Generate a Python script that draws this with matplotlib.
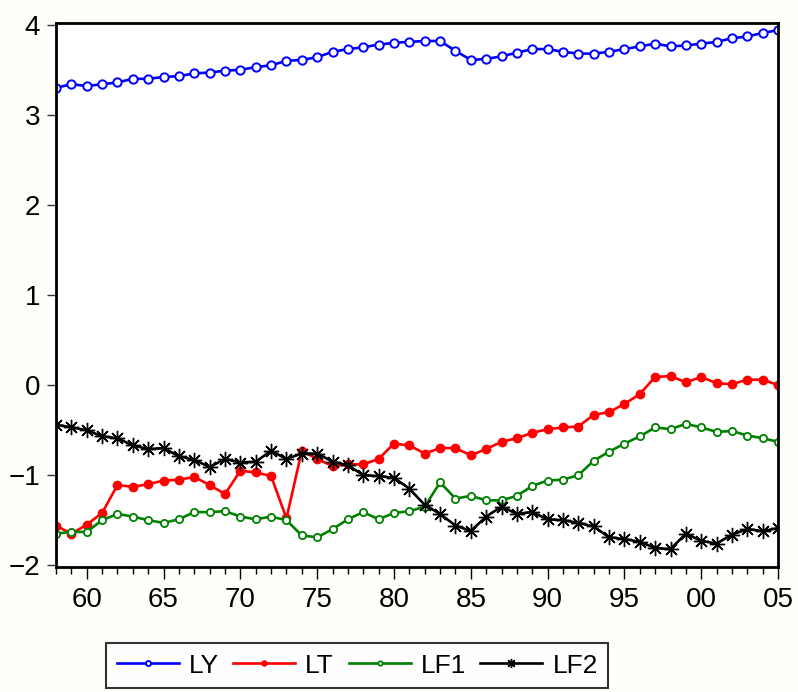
import matplotlib
matplotlib.use("Agg")
import matplotlib.pyplot as plt
from matplotlib.ticker import FixedLocator, MultipleLocator

plt.rcParams['font.family'] = ['Liberation Sans', 'DejaVu Sans']

# годы 1958-2005
years = list(range(1958, 2006))

ly = [3.30, 3.34, 3.32, 3.34, 3.36, 3.40, 3.40, 3.42, 3.43, 3.46,
      3.47, 3.49, 3.50, 3.53, 3.55, 3.60, 3.61, 3.64, 3.70, 3.73,
      3.75, 3.78, 3.80, 3.81, 3.82, 3.82, 3.71, 3.61, 3.62, 3.65,
      3.69, 3.73, 3.73, 3.70, 3.68, 3.68, 3.70, 3.73, 3.76, 3.79,
      3.76, 3.77, 3.79, 3.81, 3.85, 3.87, 3.91, 3.94]

lt = [-1.56, -1.65, -1.55, -1.42, -1.11, -1.13, -1.10, -1.06, -1.05, -1.02,
      -1.11, -1.21, -0.95, -0.97, -1.01, -1.48, -0.73, -0.82, -0.90, -0.88,
      -0.88, -0.82, -0.65, -0.67, -0.76, -0.70, -0.70, -0.78, -0.71, -0.63,
      -0.59, -0.53, -0.49, -0.47, -0.46, -0.33, -0.30, -0.21, -0.10, 0.09,
      0.10, 0.03, 0.09, 0.02, 0.01, 0.06, 0.06, 0.00]

lf1 = [-1.65, -1.63, -1.63, -1.50, -1.43, -1.46, -1.50, -1.53, -1.49, -1.41,
       -1.41, -1.40, -1.46, -1.49, -1.46, -1.50, -1.67, -1.69, -1.60, -1.49,
       -1.41, -1.49, -1.42, -1.40, -1.35, -1.08, -1.26, -1.23, -1.28, -1.28,
       -1.23, -1.12, -1.06, -1.05, -1.00, -0.84, -0.74, -0.65, -0.57, -0.47,
       -0.49, -0.43, -0.47, -0.52, -0.51, -0.56, -0.59, -0.63]

lf2 = [-0.44, -0.47, -0.50, -0.57, -0.59, -0.67, -0.71, -0.70, -0.79, -0.83,
       -0.91, -0.82, -0.86, -0.85, -0.73, -0.82, -0.76, -0.76, -0.85, -0.89,
       -1.00, -1.01, -1.03, -1.15, -1.33, -1.43, -1.56, -1.62, -1.46, -1.35,
       -1.43, -1.41, -1.49, -1.50, -1.53, -1.57, -1.69, -1.71, -1.74, -1.81,
       -1.82, -1.65, -1.73, -1.76, -1.66, -1.60, -1.62, -1.59]

fig = plt.figure(figsize=(7.98, 6.92), dpi=100, facecolor='#fefefb')
ax = fig.add_axes([0.0702, 0.1806, 0.9048, 0.7862])

ax.plot(years, ly, color='#0000ff', lw=1.9, marker='o', ms=6,
        mfc='white', mec='#0000ff', mew=1.4, label='LY')
ax.plot(years, lt, color='#ff0000', lw=1.9, marker='o', ms=6,
        mfc='#ff0000', mec='#ff0000', label='LT')
ax.plot(years, lf1, color='#008000', lw=1.9, marker='o', ms=5.2,
        mfc='white', mec='#008000', mew=1.3, label='LF1')
ax.plot(years, lf2, color='black', lw=1.9, marker=(8, 2, 0), ms=11,
        mew=1.0, label='LF2')

ax.set_xlim(1958, 2005)
ax.set_ylim(-2.02, 4.02)

ax.xaxis.set_major_locator(FixedLocator(range(1960, 2006, 5)))
ax.set_xticklabels(['%02d' % (y % 100) for y in range(1960, 2006, 5)])
ax.xaxis.set_minor_locator(MultipleLocator(1))
ax.yaxis.set_major_locator(MultipleLocator(1))

ax.tick_params(axis='x', which='major', direction='out', length=8.5,
               width=1, pad=6, labelsize=20)
ax.tick_params(axis='x', which='minor', direction='out', length=5, width=1)
ax.tick_params(axis='y', direction='out', length=6.5, width=1,
               pad=5, labelsize=20, color='#333333')

for s in ax.spines.values():
    s.set_linewidth(2)
    s.set_color('black')

leg = fig.legend(loc='upper left', bbox_to_anchor=(106 / 798, 1 - 643 / 692),
                 ncol=4, frameon=True, fancybox=False, fontsize=19,
                 edgecolor='black', handlelength=2.35, handletextpad=0.38,
                 columnspacing=0.55, borderaxespad=0, borderpad=0.4,
                 markerscale=0.6)
leg.get_frame().set_linewidth(1.5)

fig.savefig('out.png', dpi=100, facecolor=fig.get_facecolor())
